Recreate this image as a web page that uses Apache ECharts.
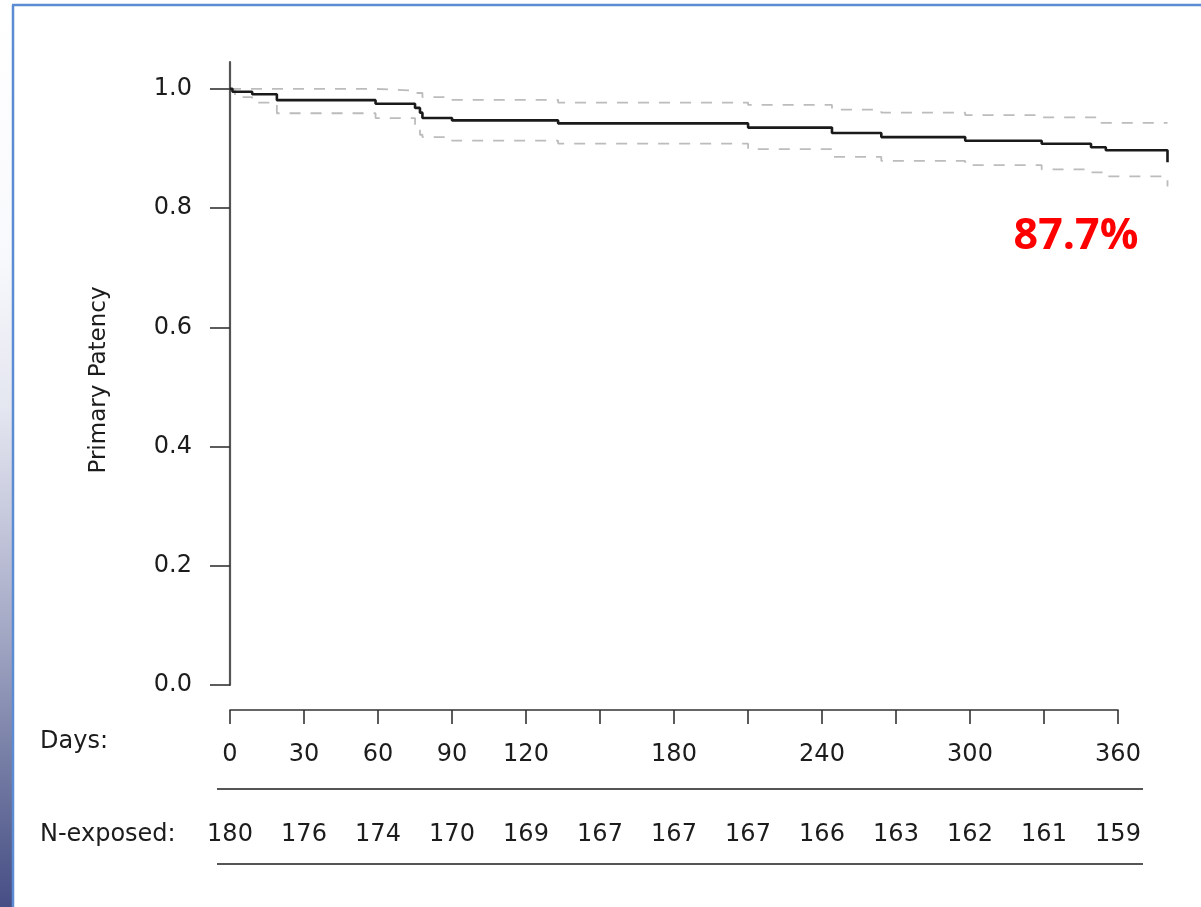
<!DOCTYPE html>
<html>
<head>
<meta charset="utf-8">
<script src="https://cdn.jsdelivr.net/npm/echarts@6/dist/echarts.min.js"></script>
<style>
html,body{margin:0;padding:0;background:#fff;}
#chart{width:1201px;height:907px;}
</style>
</head>
<body>
<div id="chart"></div>
<script>
// ---- data ----
const survDays = [0, 1, 9, 19, 59, 75, 77, 78, 90, 133, 210, 244, 264, 298, 329, 349, 355, 380];
const survVals = [1.0, 0.995, 0.991, 0.981, 0.975, 0.968, 0.960, 0.951, 0.947, 0.942, 0.935, 0.926, 0.919, 0.913, 0.908, 0.902, 0.897, 0.877];

const upperDays = [0, 58, 75, 78, 90, 133, 210, 244, 264, 298, 329, 352, 380];
const upperVals = [1.0, 0.997, 0.993, 0.986, 0.9815, 0.977, 0.973, 0.965, 0.960, 0.956, 0.952, 0.943, 0.943];

const lowerDays = [0, 2, 9, 19, 59, 75, 77, 78, 90, 133, 210, 244, 264, 298, 329, 349, 355, 380];
const lowerVals = [1.0, 0.986, 0.977, 0.959, 0.951, 0.935, 0.923, 0.919, 0.913, 0.908, 0.899, 0.886, 0.879, 0.872, 0.865, 0.860, 0.853, 0.836];

const yTicks = [0, 0.2, 0.4, 0.6, 0.8, 1.0];
const dayTicks = [0, 30, 60, 90, 120, 150, 180, 210, 240, 270, 300, 330, 360];
const dayLabels = [0, 30, 60, 90, 120, 180, 240, 300, 360];
const nExposed = [180, 176, 174, 170, 169, 167, 167, 167, 166, 163, 162, 161, 159];
const finalLabel = '87.7%';
const yTitle = 'Primary Patency';

const toPairs = (xs, ys) => xs.map((x, i) => [x, ys[i]]);

const FONT = 'DejaVu Sans';
const TXT = '#1c1c1c';
const FS = 24;

const chart = echarts.init(document.getElementById('chart'), null, {renderer: 'canvas'});

const option = {
  backgroundColor: '#ffffff',
  animation: false,
  grid: [
    {left: 230, top: 62, width: 937.5, height: 623},
    {left: 230, top: 700, width: 888, height: 10},
    {left: 230, top: 780, width: 888, height: 10}
  ],
  xAxis: [
    {
      gridIndex: 0, type: 'value', min: 0, max: 380,
      axisLine: {show: false}, axisTick: {show: false},
      axisLabel: {show: false}, splitLine: {show: false}
    },
    {
      gridIndex: 1, type: 'value', min: 0, max: 360, interval: 30,
      axisLine: {show: true, onZero: false, lineStyle: {color: '#333', width: 1.6}},
      axisTick: {show: true, length: 14, lineStyle: {color: '#333', width: 1.6}},
      axisLabel: {
        show: true, margin: 33, color: TXT, fontSize: FS, fontFamily: FONT,
        showMinLabel: true, showMaxLabel: true, hideOverlap: false,
        formatter: v => dayLabels.indexOf(v) >= 0 ? String(v) : ''
      },
      splitLine: {show: false}
    },
    {
      gridIndex: 2, type: 'value', min: 0, max: 360, interval: 30,
      axisLine: {show: false}, axisTick: {show: false},
      axisLabel: {
        show: true, margin: 33, color: TXT, fontSize: FS, fontFamily: FONT,
        showMinLabel: true, showMaxLabel: true, hideOverlap: false,
        formatter: v => {
          const i = dayTicks.indexOf(v);
          return i >= 0 ? String(nExposed[i]) : '';
        }
      },
      splitLine: {show: false}
    }
  ],
  yAxis: [
    {
      gridIndex: 0, type: 'value', min: 0, max: 1.045,
      axisLine: {show: true, onZero: false, lineStyle: {color: '#555', width: 2.2}},
      axisTick: {show: true, length: 20, customValues: yTicks, lineStyle: {color: '#333', width: 1.6}},
      axisLabel: {
        show: true, margin: 38, color: TXT, fontSize: FS, fontFamily: FONT,
        customValues: yTicks,
        formatter: v => v.toFixed(1)
      },
      splitLine: {show: false}
    },
    {gridIndex: 1, type: 'value', show: false},
    {gridIndex: 2, type: 'value', show: false}
  ],
  series: [
    {
      name: 'Upper CI', type: 'line', xAxisIndex: 0, yAxisIndex: 0,
      step: 'end', symbol: 'none', clip: false,
      lineStyle: {color: '#bcbcbc', width: 1.8, type: [11, 10]},
      data: toPairs(upperDays, upperVals), z: 2
    },
    {
      name: 'Lower CI', type: 'line', xAxisIndex: 0, yAxisIndex: 0,
      step: 'end', symbol: 'none', clip: false,
      lineStyle: {color: '#bcbcbc', width: 1.8, type: [11, 10]},
      data: toPairs(lowerDays, lowerVals), z: 2
    },
    {
      name: 'Primary Patency', type: 'line', xAxisIndex: 0, yAxisIndex: 0,
      step: 'end', symbol: 'none', clip: false,
      lineStyle: {color: '#1a1a1a', width: 2.6},
      data: toPairs(survDays, survVals), z: 3
    }
  ],
  graphic: [
    // left decorative gradient strip
    {
      type: 'rect', left: 0, top: 0, z: 0,
      shape: {width: 12, height: 907},
      style: {
        fill: new echarts.graphic.LinearGradient(0, 0, 0, 1, [
          {offset: 0, color: '#ffffff'},
          {offset: 0.28, color: '#f8f9fc'},
          {offset: 0.45, color: '#e4e6f0'},
          {offset: 0.58, color: '#c4c7db'},
          {offset: 0.70, color: '#a2a7c4'},
          {offset: 0.82, color: '#7c83a9'},
          {offset: 0.93, color: '#5a6292'},
          {offset: 1, color: '#464e86'}
        ])
      }
    },
    // blue frame
    {type: 'line', z: 1, shape: {x1: 12, y1: 5, x2: 1201, y2: 5}, style: {stroke: '#5b8bd3', lineWidth: 2.5}},
    {type: 'line', z: 1, shape: {x1: 13, y1: 5, x2: 13, y2: 907}, style: {stroke: '#5b8bd3', lineWidth: 2.5}},
    // risk table rules
    {type: 'line', z: 1, shape: {x1: 217, y1: 789, x2: 1143, y2: 789}, style: {stroke: '#555', lineWidth: 1.8}},
    {type: 'line', z: 1, shape: {x1: 217, y1: 864, x2: 1143, y2: 864}, style: {stroke: '#555', lineWidth: 1.8}},
    // row titles
    {type: 'text', x: 40, y: 742, z: 5, style: {text: 'Days:', fill: TXT, font: FS + 'px "DejaVu Sans"', textAlign: 'left', textVerticalAlign: 'middle'}},
    {type: 'text', x: 40, y: 835, z: 5, style: {text: 'N-exposed:', fill: TXT, font: FS + 'px "DejaVu Sans"', textAlign: 'left', textVerticalAlign: 'middle'}},
    // y axis title
    {type: 'text', x: 99, y: 380, rotation: Math.PI / 2, z: 5,
      style: {text: yTitle, fill: TXT, font: '23px "DejaVu Sans"', textAlign: 'center', textVerticalAlign: 'middle'}},
    // annotation
    {type: 'text', x: 1076, y: 237, z: 5,
      style: {text: finalLabel, fill: '#ff0000', font: 'bold 43px "Open Sans"', textAlign: 'center', textVerticalAlign: 'middle'}}
  ]
};

chart.setOption(option);
</script>
</body>
</html>
